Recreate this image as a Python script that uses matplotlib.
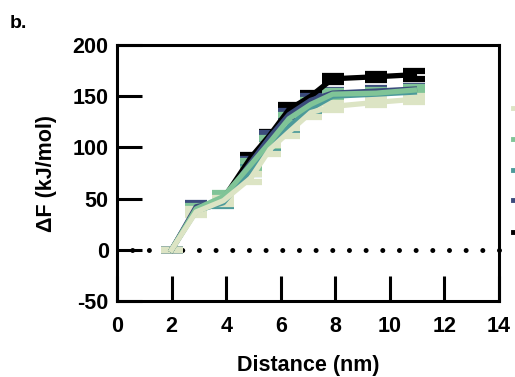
import matplotlib
matplotlib.use("Agg")
import matplotlib.pyplot as plt
from matplotlib.lines import Line2D
import numpy as np

plt.rcParams['font.family'] = ['Liberation Sans', 'DejaVu Sans']
plt.rcParams['font.weight'] = 'bold'
plt.rcParams['axes.unicode_minus'] = False

distance = [2.0, 2.9, 3.9, 4.9, 5.6, 6.3, 7.1, 7.9, 9.5, 10.9]
series = {
    'black': [0, 40, 50, 90, 112, 137, 150, 167, 169, 171],
    'navy':  [0, 42, 48, 85, 110, 132, 146, 153, 155, 157],
    'teal':  [0, 38, 46, 78, 100, 120, 138, 150, 152, 154],
    'green': [0, 40, 52, 83, 105, 128, 142, 152, 153, 156],
    'beige': [0, 37, 48, 70, 98, 115, 134, 140, 144, 147],
}
errors = {
    'black': [0, 3, 3, 3, 3, 4, 3, 3, 3, 4],
    'navy':  [0, 4, 3, 4, 4, 4, 4, 3, 3, 3],
    'teal':  [0, 3, 3, 4, 4, 4, 4, 3, 3, 3],
    'green': [0, 3, 3, 4, 4, 4, 4, 3, 3, 3],
    'beige': [0, 3, 3, 4, 4, 4, 4, 3, 3, 3],
}
colors = {
    'black': '#000000',
    'navy': '#3b4b7c',
    'teal': '#4c9a9a',
    'green': '#80c497',
    'beige': '#dce4c4',
}
draw_order = ['black', 'navy', 'teal', 'green', 'beige']
legend_order = ['beige', 'green', 'teal', 'navy', 'black']
x_range = [0, 14]
y_range = [-50, 200]

W, H = 515, 377
fig = plt.figure(figsize=(W / 100, H / 100), dpi=100)
ax = fig.add_axes([117 / W, 1 - 301 / H, (499 - 117) / W, (301 - 45) / H])

for k in draw_order:
    ax.errorbar(distance, series[k], yerr=errors[k], color=colors[k], lw=3.8,
                elinewidth=3.5, capsize=8, capthick=4.5, zorder=3)

# dotted zero line, drawn from the right edge so a dot sits on the right spine
ax.plot(x_range[::-1], [0, 0], color='black', lw=3.6,
        ls=(0, (0.001, 12.0 / 3.6)), dash_capstyle='round', zorder=2,
        clip_on=False)

ax.set_xlim(*x_range)
ax.set_ylim(*y_range)
ax.set_xticks(np.arange(0, 15, 2))
ax.set_yticks([-50, 0, 50, 100, 150, 200])
for s in ax.spines.values():
    s.set_linewidth(2.2)
ax.tick_params(axis='x', direction='in', length=18, width=2.2, pad=11,
               labelsize=15.5)
ax.tick_params(axis='y', direction='in', length=18, width=2.2, pad=6,
               labelsize=15.5)
for lab in ax.get_xticklabels() + ax.get_yticklabels():
    lab.set_fontweight('bold')

ax.set_xlabel('Distance (nm)', fontsize=15.5, fontweight='bold', labelpad=13)
ax.set_ylabel('ΔF (kJ/mol)', fontsize=15.5, fontweight='bold', labelpad=11)

fig.text(10 / W, 1 - 23 / H, 'b.', fontsize=14, fontweight='bold',
         va='center', ha='left')

# legend handles (cut off at the right edge)
ys = [108, 139, 170, 200, 232]
for k, yp in zip(legend_order, ys):
    fig.add_artist(Line2D([513 / W, 530 / W], [1 - yp / H, 1 - yp / H],
                          transform=fig.transFigure, color=colors[k], lw=3.5))

fig.savefig('out.png', dpi=100)
